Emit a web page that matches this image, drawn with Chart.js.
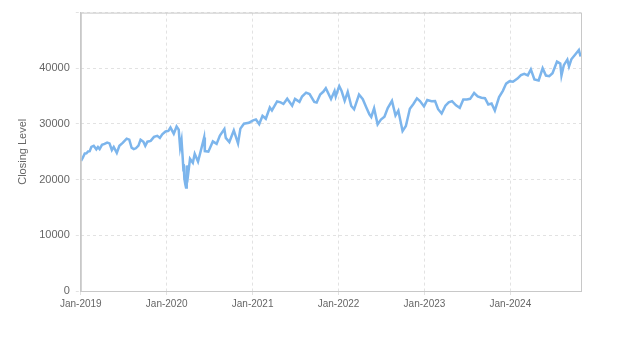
<!DOCTYPE html>
<html>
<head>
<meta charset="utf-8">
<script src="https://cdn.jsdelivr.net/npm/chart.js@4/dist/chart.umd.min.js"></script>
<style>
  html, body { margin: 0; padding: 0; background: #fff; }
  #wrap { width: 623px; height: 350px; }
</style>
</head>
<body>
<div id="wrap"><canvas id="closingChart" width="623" height="350"></canvas></div>
<script>
// Closing level samples
const dates = [
  '2019-01-02','2019-01-09','2019-01-18','2019-01-25','2019-02-01','2019-02-08','2019-02-15','2019-02-25',
  '2019-03-08','2019-03-15','2019-03-22','2019-04-01','2019-04-12','2019-04-23','2019-05-03','2019-05-13',
  '2019-05-21','2019-06-03','2019-06-14','2019-06-28','2019-07-15','2019-07-26','2019-08-05','2019-08-14',
  '2019-08-23','2019-09-03','2019-09-12','2019-09-24','2019-10-02','2019-10-11','2019-10-25','2019-11-08',
  '2019-11-22','2019-12-03','2019-12-13','2019-12-27',
  '2020-01-08','2020-01-17','2020-01-31','2020-02-12','2020-02-21','2020-02-27','2020-03-04','2020-03-09',
  '2020-03-12','2020-03-13','2020-03-16','2020-03-20','2020-03-23','2020-03-26','2020-04-01','2020-04-09',
  '2020-04-21','2020-04-29','2020-05-13','2020-05-27','2020-06-08','2020-06-11','2020-06-26','2020-07-15',
  '2020-07-31','2020-08-14','2020-09-02','2020-09-08','2020-09-23','2020-10-12','2020-10-30','2020-11-09',
  '2020-11-24','2020-12-15','2020-12-31',
  '2021-01-15','2021-01-29','2021-02-12','2021-02-26','2021-03-15','2021-03-24','2021-04-15','2021-04-30',
  '2021-05-12','2021-05-28','2021-06-18','2021-06-30','2021-07-19','2021-07-30','2021-08-16','2021-08-31',
  '2021-09-20','2021-09-30','2021-10-15','2021-10-29','2021-11-08','2021-11-30','2021-12-15','2021-12-20',
  '2021-12-31',
  '2022-01-04','2022-01-14','2022-01-27','2022-02-09','2022-02-24','2022-03-08','2022-03-29','2022-04-14',
  '2022-04-29','2022-05-12','2022-05-20','2022-06-01','2022-06-16','2022-06-30','2022-07-15','2022-07-29',
  '2022-08-16','2022-08-31','2022-09-12','2022-09-30','2022-10-14','2022-10-31','2022-11-15','2022-11-30',
  '2022-12-13','2022-12-30',
  '2023-01-13','2023-01-31','2023-02-15','2023-02-28','2023-03-15','2023-03-31','2023-04-14','2023-04-28',
  '2023-05-15','2023-05-31','2023-06-15','2023-06-30','2023-07-14','2023-07-31','2023-08-15','2023-08-31',
  '2023-09-15','2023-09-29','2023-10-13','2023-10-27','2023-11-14','2023-11-30','2023-12-14','2023-12-29',
  '2024-01-12','2024-01-31','2024-02-15','2024-02-29','2024-03-15','2024-03-28','2024-04-12','2024-04-30',
  '2024-05-17','2024-05-31','2024-06-14','2024-06-28','2024-07-17','2024-07-31','2024-08-05','2024-08-15',
  '2024-08-30','2024-09-06','2024-09-16','2024-09-30','2024-10-18','2024-10-25'
];

const closes = [
  23346, 23879, 24706, 24737, 25063, 25106, 25883, 26091,
  25450, 25849, 25502, 26258, 26412, 26656, 26504, 25324,
  25877, 24819, 26090, 26600, 27360, 27192, 25718, 25479,
  25629, 26118, 27182, 26807, 26079, 26817, 26958, 27681,
  27876, 27503, 28135, 28645,
  28745, 29348, 28256, 29551, 28992, 25766, 27090, 23851,
  21700, 22800, 20189, 19174, 18592, 22552, 20943, 23719,
  23019, 24634, 23248, 25548, 27572, 25128, 25016, 26870,
  26428, 27931, 29100, 27500, 26763, 28838, 26502, 29158,
  30046, 30200, 30606,
  30814, 29983, 31458, 30932, 32953, 32420, 34035, 33875,
  33588, 34529, 33290, 34503, 33962, 34935, 35625, 35361,
  33970, 33844, 35295, 35820, 36432, 34484, 35927, 34932,
  36338,
  36799, 35912, 34160, 35768, 33224, 32632, 35294, 34451,
  32977, 31730, 31262, 32813, 29927, 30775, 31288, 32845,
  34152, 31510, 32381, 28725, 29634, 32733, 33592, 34589,
  34108, 33147,
  34302, 34086, 34128, 32657, 31875, 33274, 33886, 34098,
  33348, 32908, 34408, 34408, 34509, 35560, 34946, 34722,
  34618, 33508, 33670, 32418, 34828, 35951, 37248, 37690,
  37593, 38150, 38773, 38996, 38715, 39807, 37983, 37816,
  40004, 38686, 38589, 39119, 41198, 40843, 38703, 40563,
  41563, 40345, 41622, 42330, 43275, 42114
];

const yTicks = [0, 10000, 20000, 30000, 40000];
const years = [2019, 2020, 2021, 2022, 2023, 2024];
const lastDate = '2024-10-27';

// date string -> fractional year so the x axis can be linear
function toYear(s) {
  const d = new Date(s + 'T00:00:00Z');
  const start = Date.UTC(d.getUTCFullYear(), 0, 1);
  return d.getUTCFullYear() + (d.getTime() - start) / (365 * 86400000);
}

const points = dates.map((d, i) => ({ x: toYear(d), y: closes[i] }));

const frame = {
  id: 'frame',
  afterDraw(chart) {
    const { ctx, chartArea: a } = chart;
    ctx.save();
    ctx.strokeStyle = '#c8c8c8';
    ctx.lineWidth = 1;
    ctx.strokeRect(a.left + 0.5, a.top + 0.5, a.right - a.left, a.bottom - a.top);
    ctx.restore();
  }
};

const gridStyle = { color: '#e2e2e2', tickColor: '#e2e2e2', tickLength: 5, tickBorderDash: [3, 3] };
const font = 'Liberation Sans, Arial, sans-serif';

new Chart(document.getElementById('closingChart').getContext('2d'), {
  type: 'line',
  data: {
    datasets: [{
      label: 'Closing Level',
      data: points,
      borderColor: '#7cb5ec',
      borderWidth: 2.5,
      pointRadius: 0,
      fill: false,
      tension: 0
    }]
  },
  options: {
    responsive: false,
    animation: false,
    layout: { padding: { left: 12, right: 42, top: 11, bottom: 38 } },
    plugins: { legend: { display: false }, tooltip: { enabled: false } },
    scales: {
      x: {
        type: 'linear',
        min: years[0],
        max: toYear(lastDate),
        grid: gridStyle,
        border: { display: true, color: '#c8c8c8', dash: [3, 3] },
        afterBuildTicks: axis => {
          axis.ticks = years.map(v => ({ value: v }));
        },
        ticks: {
          autoSkip: false,
          maxRotation: 0,
          color: '#666',
          padding: 2,
          font: { family: font, size: 10 },
          callback: v => 'Jan-' + Math.round(v)
        }
      },
      y: {
        min: 0,
        max: 50000,
        grid: gridStyle,
        border: { display: true, color: '#c8c8c8', dash: [3, 3] },
        afterBuildTicks: axis => {
          axis.ticks = [...yTicks, 50000].map(v => ({ value: v }));
        },
        ticks: {
          color: '#666',
          padding: 6,
          font: { family: font, size: 11 },
          callback: v => (yTicks.includes(v) ? String(v) : '')
        },
        title: {
          display: true,
          text: 'Closing Level',
          color: '#666',
          font: { family: font, size: 11 }
        }
      }
    }
  },
  plugins: [frame]
});
</script>
</body>
</html>
